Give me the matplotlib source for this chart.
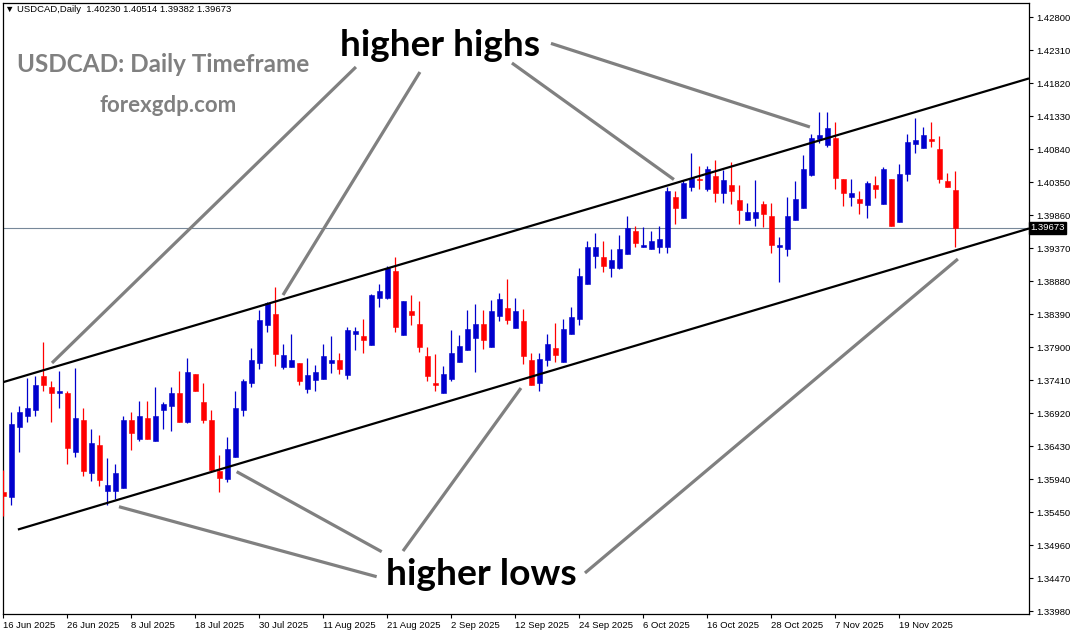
import matplotlib
matplotlib.use("Agg")
import matplotlib.pyplot as plt
import matplotlib.transforms as mtransforms

# ---------------- data ----------------
symbol = "USDCAD"
timeframe = "Daily"

opens = [1.3575, 1.3567, 1.3671, 1.3687, 1.3696, 1.3747, 1.3730, 1.3722, 1.3721, 1.3634,
         1.3681, 1.3603, 1.3645, 1.3576, 1.3576, 1.3580, 1.3681, 1.3654, 1.3684, 1.3651,
         1.3697, 1.3702, 1.3721, 1.3679, 1.3750, 1.3708, 1.3681, 1.3606, 1.3594, 1.3626,
         1.3696, 1.3736, 1.3767, 1.3823, 1.3839, 1.3761, 1.3761, 1.3767, 1.3728, 1.3741,
         1.3743, 1.3767, 1.3771, 1.3749, 1.3809, 1.3806, 1.3793, 1.3863, 1.3863, 1.3903,
         1.3808, 1.3843, 1.3824, 1.3777, 1.3736, 1.3722, 1.3743, 1.3768, 1.3786, 1.3804,
         1.3824, 1.3790, 1.3836, 1.3848, 1.3818, 1.3829, 1.3771, 1.3736, 1.3770, 1.3789,
         1.3768, 1.3809, 1.3832, 1.3883, 1.3925, 1.3923, 1.3907, 1.3907, 1.3928, 1.3962,
         1.3938, 1.3936, 1.3939, 1.3938, 1.4013, 1.3981, 1.4027, 1.4040, 1.4025, 1.4044,
         1.4019, 1.4031, 1.4009, 1.3978, 1.3982, 1.4003, 1.3985, 1.3938, 1.3935, 1.3978,
         1.3997, 1.4046, 1.4099, 1.4090, 1.4100, 1.4040, 1.4013, 1.4010, 1.4001, 1.4031,
         1.4003, 1.4040, 1.3976, 1.4047, 1.4092, 1.4086, 1.4099, 1.4084, 1.4037, 1.40230]
highs = [1.3607, 1.3693, 1.3703, 1.3744, 1.3747, 1.3798, 1.3739, 1.3755, 1.3725, 1.3759,
         1.3700, 1.3668, 1.3659, 1.3625, 1.3617, 1.3687, 1.3694, 1.3710, 1.3710, 1.3731,
         1.3709, 1.3730, 1.3755, 1.3774, 1.3750, 1.3736, 1.3696, 1.3629, 1.3656, 1.3725,
         1.3743, 1.3789, 1.3845, 1.3857, 1.3879, 1.3795, 1.3809, 1.3767, 1.3774, 1.3764,
         1.3795, 1.3806, 1.3781, 1.3820, 1.3820, 1.3832, 1.3868, 1.3883, 1.3911, 1.3923,
         1.3858, 1.3867, 1.3858, 1.3790, 1.3780, 1.3762, 1.3815, 1.3808, 1.3845, 1.3854,
         1.3845, 1.3860, 1.3870, 1.3891, 1.3863, 1.3846, 1.3781, 1.3781, 1.3809, 1.3826,
         1.3832, 1.3849, 1.3907, 1.3948, 1.3959, 1.3947, 1.3935, 1.3956, 1.3985, 1.3969,
         1.3968, 1.3962, 1.3970, 1.4027, 1.4022, 1.4038, 1.4078, 1.4059, 1.4059, 1.4067,
         1.4053, 1.4065, 1.4031, 1.4004, 1.4038, 1.4007, 1.4004, 1.3954, 1.4013, 1.4036,
         1.4075, 1.4106, 1.4139, 1.4139, 1.4124, 1.4040, 1.4040, 1.4021, 1.4037, 1.4044,
         1.4058, 1.4040, 1.4062, 1.4106, 1.4130, 1.4117, 1.4124, 1.4103, 1.4049, 1.40514]
lows = [1.3539, 1.3555, 1.3634, 1.3679, 1.3687, 1.3724, 1.3678, 1.3699, 1.3617, 1.3626,
        1.3598, 1.3591, 1.3583, 1.3555, 1.3564, 1.3580, 1.3637, 1.3650, 1.3653, 1.3651,
        1.3669, 1.3665, 1.3679, 1.3677, 1.3725, 1.3677, 1.3604, 1.3575, 1.3589, 1.3626,
        1.3688, 1.3731, 1.3758, 1.3812, 1.3762, 1.3758, 1.3761, 1.3734, 1.3721, 1.3725,
        1.3743, 1.3752, 1.3750, 1.3743, 1.3786, 1.3781, 1.3793, 1.3849, 1.3861, 1.3812,
        1.3808, 1.3822, 1.3783, 1.3740, 1.3725, 1.3722, 1.3740, 1.3768, 1.3786, 1.3753,
        1.3787, 1.3790, 1.3829, 1.3824, 1.3818, 1.3765, 1.3733, 1.3725, 1.3762, 1.3768,
        1.3768, 1.3809, 1.3823, 1.3883, 1.3908, 1.3901, 1.3894, 1.3906, 1.3928, 1.3938,
        1.3938, 1.3936, 1.3929, 1.3930, 1.3973, 1.3981, 1.4022, 1.4024, 1.4021, 1.4006,
        1.4004, 1.4003, 1.3973, 1.3978, 1.3970, 1.3968, 1.3930, 1.3886, 1.3925, 1.3978,
        1.3997, 1.4044, 1.4093, 1.4087, 1.4025, 1.3999, 1.4000, 1.3988, 1.3982, 1.4012,
        1.4003, 1.3969, 1.3976, 1.4037, 1.4078, 1.4086, 1.4087, 1.4033, 1.4027, 1.39382]
closes = [1.3569, 1.3675, 1.3693, 1.3700, 1.3733, 1.3733, 1.3722, 1.3725, 1.3640, 1.3684,
          1.3606, 1.3647, 1.3592, 1.3585, 1.3603, 1.3682, 1.3662, 1.3687, 1.3653, 1.3688,
          1.3705, 1.3722, 1.3679, 1.3753, 1.3725, 1.3681, 1.3607, 1.3595, 1.3638, 1.3700,
          1.3739, 1.3770, 1.3830, 1.3855, 1.3780, 1.3778, 1.3771, 1.3739, 1.3749, 1.3753,
          1.3777, 1.3771, 1.3758, 1.3815, 1.3814, 1.3801, 1.3867, 1.3873, 1.3908, 1.3820,
          1.3858, 1.3838, 1.3790, 1.3747, 1.3733, 1.3750, 1.3781, 1.3792, 1.3817, 1.3824,
          1.3801, 1.3843, 1.3861, 1.3830, 1.3843, 1.3777, 1.3734, 1.3772, 1.3795, 1.3778,
          1.3817, 1.3834, 1.3895, 1.3938, 1.3939, 1.3911, 1.3919, 1.3935, 1.3966, 1.3945,
          1.3941, 1.3948, 1.3951, 1.4022, 1.3997, 1.4034, 1.4041, 1.4038, 1.4055, 1.4018,
          1.4038, 1.4021, 1.3994, 1.3991, 1.3990, 1.3987, 1.3942, 1.3942, 1.3985, 1.4010,
          1.4055, 1.4100, 1.4105, 1.4115, 1.4041, 1.4018, 1.4018, 1.4004, 1.4034, 1.4024,
          1.4055, 1.3970, 1.4047, 1.4095, 1.4097, 1.4105, 1.4096, 1.4040, 1.4027, 1.39673]

x_tick_labels = ["16 Jun 2025", "26 Jun 2025", "8 Jul 2025", "18 Jul 2025", "30 Jul 2025",
                 "11 Aug 2025", "21 Aug 2025", "2 Sep 2025", "12 Sep 2025", "24 Sep 2025",
                 "6 Oct 2025", "16 Oct 2025", "28 Oct 2025", "7 Nov 2025", "19 Nov 2025"]
bars_per_label = 8

y_tick_values = [1.33980, 1.34470, 1.34960, 1.35450, 1.35940, 1.36430, 1.36920, 1.37410,
                 1.37900, 1.38390, 1.38880, 1.39370, 1.39860, 1.40350, 1.40840, 1.41330,
                 1.41820, 1.42310, 1.42800]

# channel trend lines: (bar index, price)
upper_channel = [(0, 1.3738), (120, 1.4160)]
lower_channel = [(1.8, 1.3519), (120, 1.3937)]

# annotation pointers: ((bar, price) start, (bar, price) end)
hh_label = "higher highs"
hh_label_pos = (54.6, 1.4238)
hh_pointers = [((44.06, 1.42058), (6.06, 1.37663)),
               ((52.06, 1.41983), (34.94, 1.38672)),
               ((63.56, 1.42117), (83.81, 1.40387)),
               ((68.44, 1.42408), (100.81, 1.41167))]
hl_label = "higher lows"
hl_label_pos = (59.7, 1.3452)
hl_pointers = [((14.44, 1.35529), (46.65, 1.34490)),
               ((29.15, 1.36049), (47.28, 1.34861)),
               ((49.94, 1.34871), (64.69, 1.37291)),
               ((72.69, 1.34545), (119.31, 1.39207))]

title_text = "USDCAD: Daily Timeframe"
site_text = "forexgdp.com"

# ---------------- drawing ----------------
W, H = 1074, 635
fig = plt.figure(figsize=(W / 100, H / 100), dpi=100)
fig.patch.set_facecolor("white")
left_px, right_px, top_px, bot_px = 2.7, 1029, 3, 614
ax = fig.add_axes([left_px / W, 1 - bot_px / H, (right_px - left_px) / W, (bot_px - top_px) / H])
ax.set_facecolor("white")

BULL = "#0000CD"
BEAR = "#FF0000"
n = len(opens)
xs = list(range(n))
for i in xs:
    o, h, l, c = opens[i], highs[i], lows[i], closes[i]
    col = BULL if c >= o else BEAR
    ax.vlines(i, l, h, colors=col, linewidth=0.9, zorder=3)
    lo_b = min(o, c)
    hgt = max(abs(c - o), 0.00012)
    ax.bar(i, hgt, bottom=lo_b, width=0.6, color=col, edgecolor=col, linewidth=0.4, zorder=4)

x_min, x_max = -0.1, 128.2
y_min, y_max = 1.33936, 1.43008
ax.set_xlim(x_min, x_max)
ax.set_ylim(y_min, y_max)

# current price line
last = closes[-1]
ax.axhline(last, color="#778899", linewidth=0.8, zorder=2)

# channel lines
(ux0, uy0), (ux1, uy1) = upper_channel
us = (uy1 - uy0) / (ux1 - ux0)
ax.plot([x_min, x_max], [uy0 + us * (x_min - ux0), uy0 + us * (x_max - ux0)],
        color="black", linewidth=1.6, zorder=5, solid_capstyle="butt")
(lx0, ly0), (lx1, ly1) = lower_channel
ls = (ly1 - ly0) / (lx1 - lx0)
ax.plot([lx0, x_max], [ly0, ly0 + ls * (x_max - lx0)],
        color="black", linewidth=1.6, zorder=5, solid_capstyle="butt")

# pointers
for (p0, p1) in hh_pointers + hl_pointers:
    ax.plot([p0[0], p1[0]], [p0[1], p1[1]], color="#808080", linewidth=2.3, zorder=6,
            solid_capstyle="butt")

ax.text(hh_label_pos[0], hh_label_pos[1], hh_label, fontsize=26.6, fontweight="bold",
        family="Lato", ha="center", va="center", color="black", zorder=7)
ax.text(hl_label_pos[0], hl_label_pos[1], hl_label, fontsize=26.8, fontweight="bold",
        family="Lato", ha="center", va="center", color="black", zorder=7)

# axes styling
for s in ax.spines.values():
    s.set_color("black")
    s.set_linewidth(0.9)

small = dict(family=["Liberation Sans", "DejaVu Sans"], size=6.8)
ax.yaxis.tick_right()
ax.set_yticks(y_tick_values)
ax.set_yticklabels([f"{v:.5f}" for v in y_tick_values], **small)
ax.tick_params(axis="y", direction="out", length=3, width=0.8, pad=2, colors="black")

x_ticks = [k * bars_per_label for k in range(len(x_tick_labels))]
ax.set_xticks(x_ticks)
ax.set_xticklabels(x_tick_labels, ha="left", **small)
ax.tick_params(axis="x", direction="out", length=3, width=0.8, pad=2, colors="black")

# current price box on the axis
trans = mtransforms.blended_transform_factory(ax.transAxes, ax.transData)
ax.text(1.001, last, f"{last:.5f}", transform=trans, ha="left", va="center",
        color="white", zorder=10, clip_on=False,
        bbox=dict(facecolor="black", edgecolor="black", boxstyle="square,pad=0.15"),
        **small)

# header
header = f"\u25BC {symbol},{timeframe}  {opens[-1]:.5f} {highs[-1]:.5f} {lows[-1]:.5f} {closes[-1]:.5f}"
fig.text(5 / W, 1 - 10 / H, header, ha="left", va="center", color="black",
         family=["Liberation Sans", "DejaVu Sans"], size=6.8)

fig.text(17 / W, 1 - 64 / H, title_text, ha="left", va="center", color="#808080",
         family="Lato", fontweight="bold", fontsize=17.5)
fig.text(168 / W, 1 - 106 / H, site_text, ha="center", va="center", color="#808080",
         family="Lato", fontweight="bold", fontsize=16)

fig.savefig("out.png", dpi=100, facecolor="white")
